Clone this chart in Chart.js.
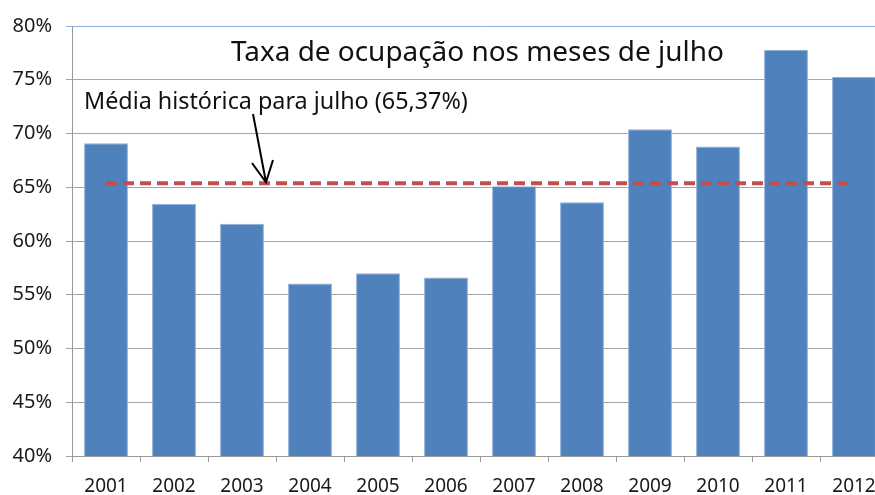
<!DOCTYPE html>
<html>
<head>
<meta charset="utf-8">
<script src="https://cdn.jsdelivr.net/npm/chart.js@4/dist/chart.umd.min.js"></script>
<style>
  body { margin: 0; background: #fff; overflow: hidden; }
  #wrap { width: 890px; height: 495px; }
</style>
</head>
<body>
<div id="wrap"><canvas id="mycanvas" width="890" height="495"></canvas></div>
<script>
// anos e taxa de ocupacao (%) em julho
var anos = ['2001','2002','2003','2004','2005','2006','2007','2008','2009','2010','2011','2012'];
var taxa = [69.1, 63.45, 61.6, 56.05, 57.0, 56.6, 65.1, 63.6, 70.4, 68.8, 77.8, 75.25];
var media = 65.37;
var yTicks = [40, 45, 50, 55, 60, 65, 70, 75, 80];
var titulo = 'Taxa de ocupação nos meses de julho';
var rotuloMedia = 'Média histórica para julho (65,37%)';

var FONT = '"Noto Sans", "Open Sans", sans-serif';

// texto ajustado para uma largura alvo
function fitText(ctx, text, x, y, width, size) {
	ctx.font = size + 'px ' + FONT;
	var w = ctx.measureText(text).width;
	var s = size * width / w;
	ctx.font = s + 'px ' + FONT;
	ctx.fillText(text, x, y);
}

var anotacoes = {
	id: 'anotacoes',
	afterDatasetsDraw: function(chart) {
		var ctx = chart.ctx;
		var y = chart.scales.y;
		ctx.save();
		ctx.fillStyle = '#111';
		ctx.textAlign = 'left';
		ctx.textBaseline = 'middle';
		fitText(ctx, titulo, 231, 53, 493, 28);
		fitText(ctx, rotuloMedia, 84, 102, 384, 20);

		// seta apontando para a linha da media
		var tipX = 266, tipY = y.getPixelForValue(media) - 1;
		ctx.strokeStyle = '#000';
		ctx.lineWidth = 2;
		ctx.beginPath();
		ctx.moveTo(253, 114);
		ctx.lineTo(tipX, tipY);
		ctx.moveTo(252, 163);
		ctx.lineTo(tipX, tipY);
		ctx.lineTo(273, 160);
		ctx.stroke();
		ctx.restore();
	}
};

var chartdata = {
	labels: anos,
	datasets: [
		{
			type: 'line',
			label: 'Média',
			data: anos.map(function() { return media; }),
			borderColor: '#c0504d',
			borderWidth: 4,
			borderDash: [11, 6],
			pointRadius: 0,
			fill: false,
			order: 0
		},
		{
			type: 'bar',
			label: 'Taxa',
			data: taxa,
			backgroundColor: '#4f81bd',
			borderColor: '#8fb0d8',
			borderWidth: 1,
			categoryPercentage: 1,
			barPercentage: 0.645,
			order: 1
		}
	]
};

var ctx = document.getElementById('mycanvas');

var barGraph = new Chart(ctx, {
	data: chartdata,
	plugins: [anotacoes],
	options: {
		responsive: false,
		animation: false,
		layout: { padding: { top: 24, right: 2, left: 0, bottom: 0 } },
		plugins: {
			legend: { display: false },
			tooltip: { enabled: false },
			title: { display: false }
		},
		scales: {
			x: {
				offset: true,
				grid: {
					offset: true,
					drawOnChartArea: false,
					drawTicks: true,
					tickLength: 6,
					color: '#9a9a9a'
				},
				border: { color: '#9a9a9a' },
				ticks: {
					color: '#1a1a1a',
					font: { family: FONT, size: 19 },
					padding: 13,
					maxRotation: 0
				},
				afterFit: function(scale) { scale.height = 39; }
			},
			y: {
				min: 40,
				max: 80,
				afterBuildTicks: function(scale) {
					scale.ticks = yTicks.map(function(v) { return { value: v }; });
				},
				grid: {
					color: function(c) { return c.tick && c.tick.value === 80 ? '#8eaedb' : '#a6a6a6'; },
					tickLength: 6,
					drawTicks: true
				},
				border: { color: '#9a9a9a' },
				ticks: {
					color: '#1a1a1a',
					font: { family: FONT, size: 20 },
					padding: 14,
					callback: function(v) { return v + '%'; }
				},
				afterFit: function(scale) { scale.width = 72; }
			}
		}
	}
});
</script>
</body>
</html>
